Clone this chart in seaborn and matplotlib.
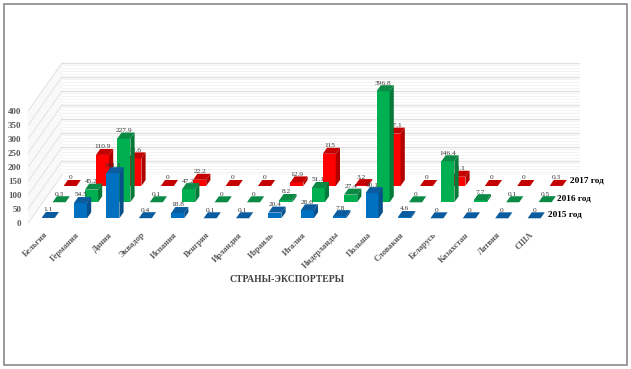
import matplotlib
matplotlib.use("Agg")
import matplotlib.pyplot as plt
from matplotlib.patches import Polygon, Rectangle
from matplotlib.lines import Line2D
from matplotlib.transforms import ScaledTranslation
import seaborn as sns

countries = ["Бельгия", "Германия", "Дания", "Эквадор", "Испания", "Венгрия", "Ирландия", "Израиль",
             "Италия", "Нидерланды", "Польша", "Словакия", "Беларусь", "Казахстан", "Латвия", "США"]
values_2015 = [1.1, 54.5, 161.1, 0.4, 18.8, 0.1, 0.1, 20.4, 28.6, 7.8, 90.1, 4.6, 0, 0, 0, 0]
values_2016 = [0.3, 45.2, 227.9, 0.1, 47.2, 0, 0, 8.2, 51.1, 27.4, 396.8, 0, 146.4, 7.7, 0.1, 0.5]
values_2017 = [0, 110.9, 98.6, 0, 22.2, 0, 0, 12.9, 115, 3.2, 187.1, 0, 33.1, 0, 0, 0.3]
year_labels = ["2015 год", "2016 год", "2017 год"]
y_ticks = list(range(0, 401, 50))
minor_ticks = list(range(0, 401, 10))

sns.set_theme(style="white")
plt.rcParams["font.family"] = ["Liberation Serif", "DejaVu Serif"]

W, H = 631, 369
fig = plt.figure(figsize=(W / 100, H / 100), dpi=100, facecolor="white")


def add_axes_px(left, top, right, bottom, **kw):
    return fig.add_axes([left / W, 1 - bottom / H, (right - left) / W, (bottom - top) / H], **kw)


PX_Y = 112 / 400        # pixels per value unit
SPACING = 32.4          # pixels per category
BAR_W = 13 / SPACING
DX, DY = 4.2, 6.0       # bar depth in pixels

# page layer: frame and side wall
page = add_axes_px(0, 0, W, H)
page.set_xlim(0, W)
page.set_ylim(H, 0)
page.axis("off")
page.add_patch(Rectangle((3.5, 3.5), 623.5, 361.5, fill=False, ec="#808080", lw=1.1))
WALL_FRONT_X, WALL_BACK_X, WALL_FRONT_Y, WALL_BACK_Y = 28.3, 62.3, 222.8, 174.5
for t in minor_ticks:
    major = t % 50 == 0
    page.add_line(Line2D([WALL_FRONT_X, WALL_BACK_X],
                         [WALL_FRONT_Y - t * PX_Y, WALL_BACK_Y - t * PX_Y],
                         color="#e2e2e2" if major else "#f5f5f5", lw=0.8 if major else 0.6))

# back wall
back = add_axes_px(WALL_BACK_X, WALL_BACK_Y - 112, 580, WALL_BACK_Y)
back.set_xlim(0, 1)
back.set_ylim(0, 400)
back.set_xticks([])
back.set_yticks(minor_ticks)
back.tick_params(left=False, labelleft=False)
for t, gl in zip(minor_ticks, back.get_ygridlines()):
    gl.set_visible(True)
    gl.set_color("#e0e0e0" if t % 50 == 0 else "#f3f3f3")
    gl.set_linewidth(1.0 if t % 50 == 0 else 0.7)
sns.despine(ax=back, left=True, bottom=True)
back.patch.set_alpha(0)

# front scale with the value labels
front = add_axes_px(WALL_FRONT_X, WALL_FRONT_Y - 112, WALL_FRONT_X + 1, WALL_FRONT_Y)
front.set_ylim(0, 400)
front.set_xticks([])
front.set_yticks(y_ticks)
front.tick_params(axis="y", length=0, pad=5)
for lab in front.get_yticklabels():
    lab.set(fontsize=6.5, fontweight="bold", color="#595959")
sns.despine(ax=front, left=True, bottom=True)
front.patch.set_alpha(0)

series = [
    (values_2017, 22.0, 186.0, "#ff0000", "#c40000", "#b00000", year_labels[2], 570.5, 180.7),
    (values_2016, 11.0, 202.3, "#00b050", "#0b8a45", "#067a39", year_labels[1], 557.0, 198.0),
    (values_2015, 0.0, 218.3, "#0070c0", "#0b5c9e", "#075089", year_labels[0], 547.7, 215.0),
]

for vals, xoff, base, c_front, c_top, c_side, name, lx, ly in series:
    left = 48.1 + xoff - SPACING / 2
    ax = add_axes_px(left, base - 112, left + SPACING * len(vals), base)
    sns.barplot(x=countries, y=vals, order=countries, color=c_front, saturation=1,
                width=BAR_W, ax=ax, linewidth=0, zorder=3)
    ax.set_xlim(-0.5, len(vals) - 0.5)
    ax.set_ylim(0, 400)
    ax.patch.set_alpha(0)
    ax.set_yticks([])
    ax.set_ylabel("")
    sns.despine(ax=ax, left=True, bottom=True)
    ddx, ddy = DX / SPACING, DY / PX_Y
    hw = BAR_W / 2
    for i, v in enumerate(vals):
        ax.add_patch(Polygon([(i - hw, v), (i + hw, v), (i + hw + ddx, v + ddy), (i - hw + ddx, v + ddy)],
                             closed=True, fc=c_top, ec="none", clip_on=False, zorder=4))
        ax.add_patch(Polygon([(i + hw, 0), (i + hw + ddx, ddy), (i + hw + ddx, v + ddy), (i + hw, v)],
                             closed=True, fc=c_side, ec="none", clip_on=False, zorder=4))
        ax.annotate(f"{v:g}", xy=(i, v), xytext=(0, 5.8), textcoords="offset points",
                    ha="center", va="center", fontsize=5.3, color="#333333",
                    annotation_clip=False, zorder=5)
    if xoff == 0:
        ax.set_xticks(range(len(vals)))
        ax.set_xticklabels(countries, rotation=45, ha="right", rotation_mode="anchor",
                           fontsize=6.0, fontweight="bold", color="#595959")
        ax.tick_params(axis="x", length=0, pad=9)
        shift = ScaledTranslation(-3.4 / 72, 0, fig.dpi_scale_trans)
        for lab in ax.get_xticklabels():
            lab.set_transform(lab.get_transform() + shift)
        ax.set_xlabel("")
    else:
        ax.set_xticks([])
        ax.set_xlabel("")
    fig.text(lx / W, 1 - ly / H, name, ha="left", va="center",
             fontsize=6.7, fontweight="bold", color="black")

fig.text(287 / W, 1 - 279.5 / H, "СТРАНЫ-ЭКСПОРТЕРЫ", ha="center", va="center",
         fontsize=6.9, fontweight="bold", color="#404040")

fig.savefig("out.png", dpi=100, facecolor="white")
